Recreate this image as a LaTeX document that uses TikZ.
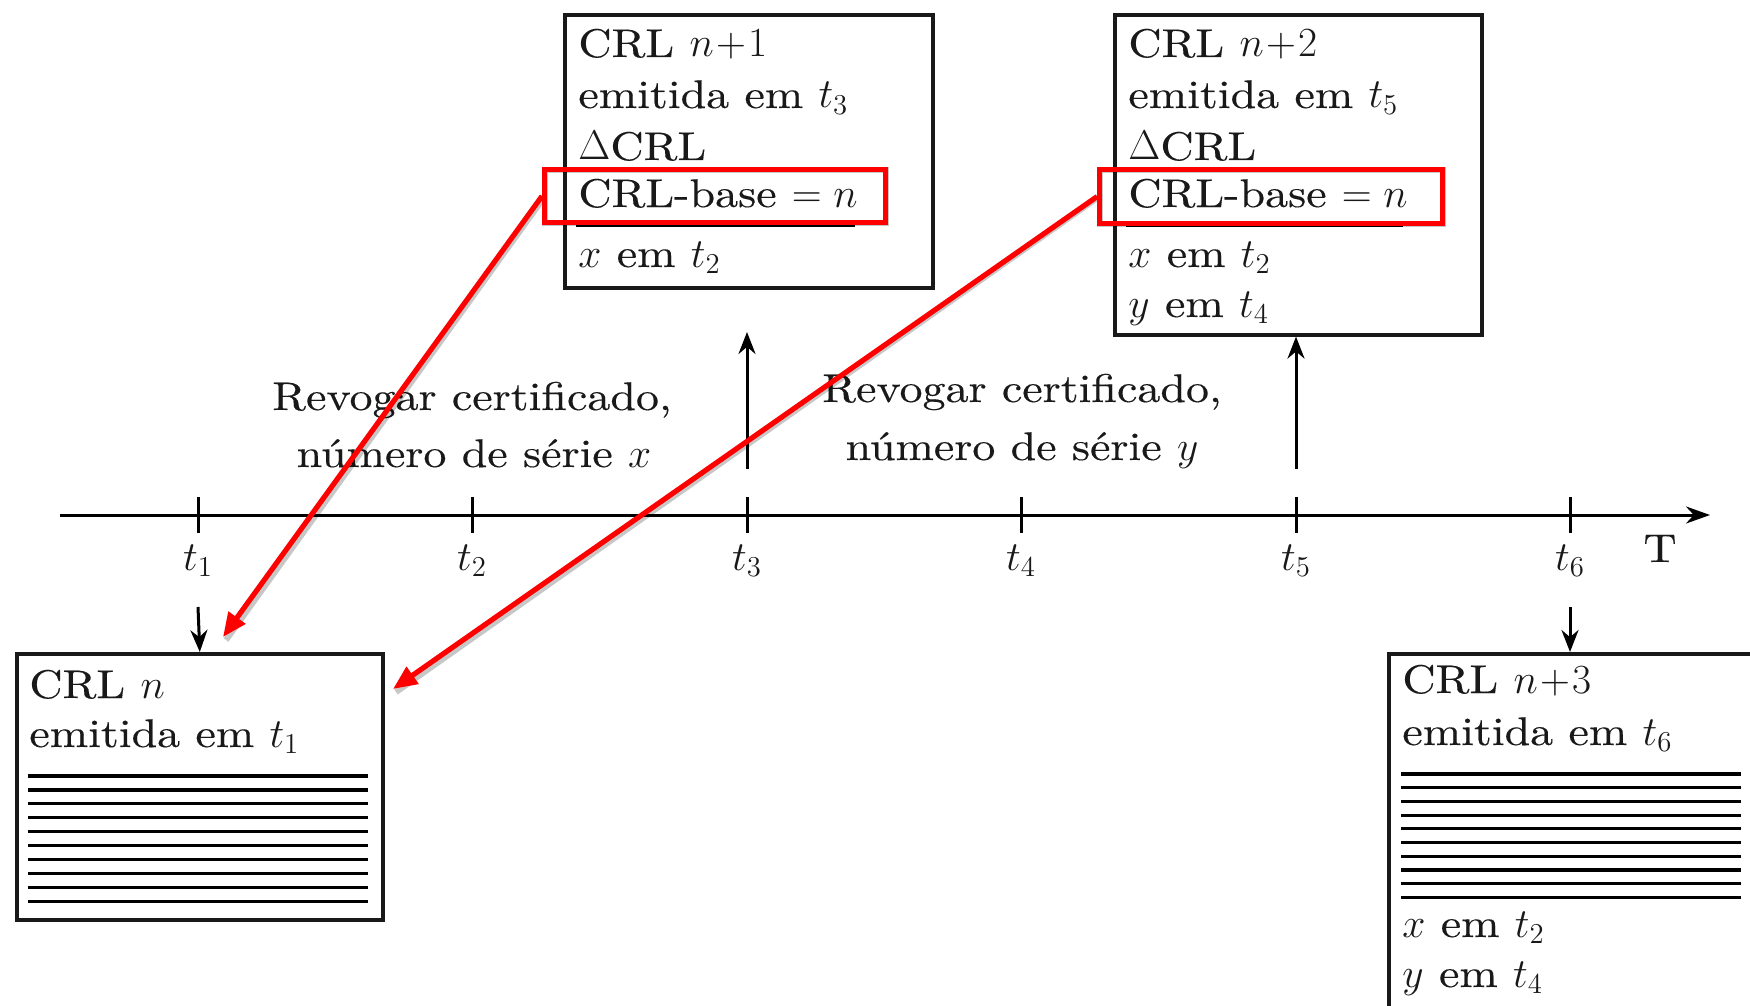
\documentclass[tikz,border=0pt]{standalone}
\usepackage{fontspec}
\setmainfont{lmroman10-regular.otf}[FakeStretch=1.15, FakeBold=0.3]
\usetikzlibrary{arrows.meta}
\begin{document}
\begin{tikzpicture}[x=0.5pt,y=-0.5pt, font=\fontsize{20}{29}\selectfont, text=black!90,
 crlbox/.style={draw=black!90, line width=1.8pt, rectangle, inner sep=0pt, anchor=north west},
 txt/.style={anchor=base west, inner sep=0pt},
 tlbl/.style={anchor=base, inner sep=0pt},
 tickln/.style={line width=1.5pt},
 blk/.style={line width=1.5pt, -{Stealth[length=11pt,width=8.5pt]}},
 hatch/.style={line width=1.6pt},
 redbox/.style={draw=red, line width=2.6pt, rectangle, inner sep=0pt, anchor=north west},
 redarr/.style={draw=red, line width=2.6pt, -{Triangle[length=12pt,width=10pt]}},
 shadeln/.style={draw=black, opacity=0.22, line width=3pt}
]
\clip (0,0) rectangle (1750,1006);
% axis
\coordinate (a0) at (60,515);
\coordinate (a1) at (1710,515);
\draw[line width=1.5pt, -{Stealth[length=12pt,width=8.5pt]}] (a0) -- (a1);
\foreach \i/\x in {1/198,2/472,3/747,4/1021,5/1296,6/1570} {
  \coordinate (t\i) at (\x,515);
  \draw[tickln] ([yshift=9pt]t\i) -- ([yshift=-9pt]t\i);
  \node[tlbl] (lt\i) at (\x,570) {$t_{\i}$};
}
\node[tlbl] (T) at (1660,562) {T};

% boxes
\node[crlbox, minimum width=183pt, minimum height=133pt] (crln) at (15,652) {};
\node[crlbox, minimum width=184pt, minimum height=136.5pt] (crl1) at (563,13) {};
\node[crlbox, minimum width=183.5pt, minimum height=160pt] (crl2) at (1113,13) {};
\node[crlbox, minimum width=192pt, minimum height=190pt] (crl3) at (1387,652) {};

% box n+1 text
\node[txt] (b1a) at (578,57) {CRL $n\!+\!1$};
\node[txt] (b1b) at (578,108) {emitida em $t_3$};
\node[txt] (b1c) at (578,160) {$\Delta$CRL};
\node[txt] (b1d) at (578,207) {CRL-base $=n$};
\draw[line width=1.6pt] (576,225) -- (855,225);
\node[txt] (b1e) at (578,267) {$x$ em $t_2$};

% box n+2 text
\node[txt] (b2a) at (1128,57) {CRL $n\!+\!2$};
\node[txt] (b2b) at (1128,108) {emitida em $t_5$};
\node[txt] (b2c) at (1128,160) {$\Delta$CRL};
\node[txt] (b2d) at (1128,207) {CRL-base $=n$};
\draw[line width=1.6pt] (1126,225) -- (1403,225);
\node[txt] (b2e) at (1128,267) {$x$ em $t_2$};
\node[txt] (b2f) at (1128,317) {$y$ em $t_4$};

% box n text
\node[txt] (b0a) at (29,698) {CRL $n$};
\node[txt] (b0b) at (29,747) {emitida em $t_1$};
\foreach \k in {0,...,9} \draw[hatch] (28,{776+13.9*\k}) -- (368,{776+13.9*\k});

% box n+3 text
\node[txt] (b3a) at (1402,693) {CRL $n\!+\!3$};
\node[txt] (b3b) at (1402,745) {emitida em $t_6$};
\foreach \k in {0,...,9} \draw[hatch] (1401,{774+13.7*\k}) -- (1741,{774+13.7*\k});
\node[txt] (b3c) at (1402,937) {$x$ em $t_2$};
\node[txt] (b3d) at (1402,987) {$y$ em $t_4$};

% vertical arrows
\draw[blk] ([yshift=-46pt]t1) -- (crln.north);
\draw[blk] ([yshift=-46pt]t6) -- (t6 |- crl3.north);
\draw[blk] ([yshift=23pt]t3) -- ([yshift=91.5pt]t3);
\draw[blk] ([yshift=23pt]t5) -- (t5 |- crl2.south);

% labels
\node[tlbl] (rv1a) at (472,410) {Revogar certificado,};
\node[tlbl] (rv1b) at (474,467) {número de série $x$};
\node[tlbl] (rv2a) at (1022,402) {Revogar certificado,};
\node[tlbl] (rv2b) at (1022,460) {número de série $y$};

% red highlights
\coordinate (e1) at (223,637);
\coordinate (e2) at (393,689);
\draw[shadeln] (545,170) rectangle (886,223);
\draw[shadeln] (1100,170) rectangle (1443,224);
\draw[shadeln] (545,196) -- (226,640);
\draw[shadeln] (1100,196) -- (396,692);
\node[redbox, minimum width=170.5pt, minimum height=26.5pt] (rb1) at (542,167) {};
\node[redbox, minimum width=171.5pt, minimum height=27pt] (rb2) at (1097,167) {};
\draw[redarr] (rb1.west) -- (e1);
\draw[redarr] (rb2.west) -- (e2);
\end{tikzpicture}
\end{document}
